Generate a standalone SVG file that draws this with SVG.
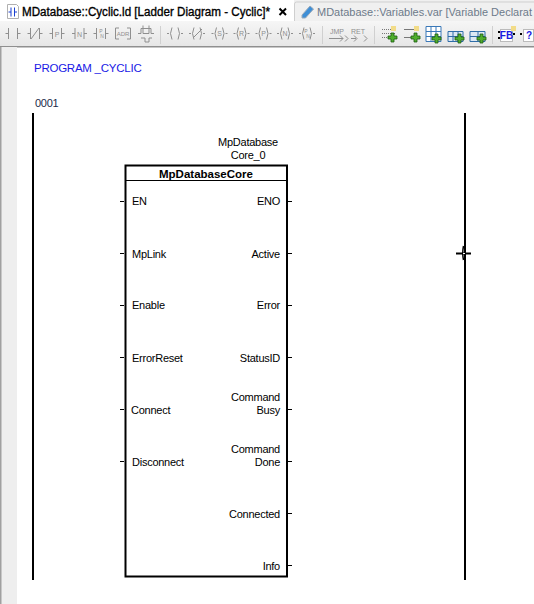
<svg xmlns="http://www.w3.org/2000/svg" width="534" height="604" viewBox="0 0 534 604">
<style>
text{font-family:"Liberation Sans",Arial,sans-serif;font-size:11px;letter-spacing:-.25px;fill:#000}
.r{text-anchor:end}.m{text-anchor:middle}
.tb{fill:none;stroke:#8f8f8f;stroke-width:1}
.tt{font-size:7px;letter-spacing:0;fill:#8f8f8f;text-anchor:middle}
.pin{stroke:#000;stroke-width:1}
.rail{stroke:#000;stroke-width:2}
.head{font-weight:bold;font-size:11.5px;letter-spacing:0}
</style>
<defs>
<linearGradient id="bar" x1="0" y1="0" x2="0" y2="1"><stop offset="0" stop-color="#f6f6f6"/><stop offset="1" stop-color="#e6e6e6"/></linearGradient>
<g id="add"><path d="M3 0h3v3h3v3h-3v3h-3v-3h-3v-3h3z" fill="#4fae2c" stroke="#1d5c12" stroke-width=".8"/></g>
<path id="coil" class="tb" d="M-8 0h2M-3-6q-3 6 0 12M3-6q3 6 0 12M6 0h2"/>
<path id="contact" class="tb" d="M-7.500 0h3M-4.500-5.500v11M4.500-5.500v11M4.500 0h3"/>
</defs>
<rect width="534" height="604" fill="#fff"/>
<g id="chrome">
<rect width="534" height="21" fill="#f0f0f0"/>
<rect width="294" height="21" fill="#fff"/>
<path d="M294.500 21V4q0-2 2-2H534" fill="none" stroke="#cfcfcf"/>
<rect y="21" width="534" height="25" fill="url(#bar)"/>
<rect y="46" width="534" height="1.500" fill="#8f8f8f"/>
<rect x="0" y="47" width="17" height="557" fill="#eeeeee"/>
<rect x="0" y="47" width="1.500" height="557" fill="#a0a0a0"/>
<path d="M7.500 4.500h9l2 2v12h-11z" fill="#fff" stroke="#b0b0b0"/>
<path d="M11 7.500v9M14.500 7.500v9M8.500 12h2.500M14.500 12h2.500" stroke="#1a3fd0" fill="none"/>
<text x="22" y="16" textLength="248" lengthAdjust="spacingAndGlyphs" style="font-size:12.500px;letter-spacing:0;stroke:#000;stroke-width:.35">MDatabase::Cyclic.ld [Ladder Diagram - Cyclic]*</text>
<path d="M279.500 8.500l6.500 6.500m0-6.500l-6.500 6.500" stroke="#000" stroke-width="2"/>
<path d="M302 15l8-9 3.500 3-8 9h-3.500z" fill="#3f8fd6" stroke="#9ab"/>
<text x="317" y="16" textLength="215" lengthAdjust="spacingAndGlyphs" style="fill:#6d7a8a;font-size:11.200px;letter-spacing:0">MDatabase::Variables.var [Variable Declarat</text>
</g>
<g id="toolbar">
<use href="#contact" x="13" y="33.500"/>
<use href="#contact" x="35" y="33.500"/><path class="tb" d="M31 39l8-11"/>
<use href="#contact" x="57" y="33.500"/><text class="tt" x="57" y="36.500">P</text>
<use href="#contact" x="79.500" y="33.500"/><text class="tt" x="79.500" y="36.500">N</text>
<use href="#contact" x="101" y="33.500"/><text class="tt" x="101" y="33" style="font-size:5px">P</text><text class="tt" x="102" y="38" style="font-size:5px">N</text>
<path class="tb" d="M119 28h-3.500v11H119M127 28h3.500v11H127"/>
<text class="tt" x="123" y="36" style="font-size:6px">ADR</text>
<path class="tb" d="M138 33.500h3v-5h10v5h3M143 25.500v8h6v-8M141 38h4v4h4v-4h3"/>
<path d="M160.500 26v18" stroke="#d0d0d0"/>
<use href="#coil" x="175" y="33.500"/>
<use href="#coil" x="197" y="33.500"/><path class="tb" d="M193 38l9-9"/>
<use href="#coil" x="219.500" y="33.500"/><text class="tt" x="219.500" y="36">S</text>
<use href="#coil" x="241.500" y="33.500"/><text class="tt" x="241.500" y="36">R</text>
<use href="#coil" x="263.500" y="33.500"/><text class="tt" x="263.500" y="36">P</text>
<use href="#coil" x="285" y="33.500"/><text class="tt" x="285" y="36">N</text>
<use href="#coil" x="307" y="33.500"/><text class="tt" x="306" y="33" style="font-size:5px">P</text><text class="tt" x="308" y="38" style="font-size:5px">N</text>
<path d="M322.500 26v18" stroke="#d0d0d0"/>
<text class="tt" x="337" y="34">JMP</text>
<path class="tb" d="M329 38.500h14M340 35.500l3 3-3 3M345 35.500l3 3-3 3"/>
<text class="tt" x="358" y="34">RET</text>
<path class="tb" d="M351 38.500h5M354 35.500l3 3-3 3M364 35.500l3 3-3 3"/>
<path d="M374.500 26v18" stroke="#d0d0d0"/>
<path d="M382 29.500h10M382 33.500h13M382 37.500h8" stroke="#777" stroke-dasharray="1 1"/>
<rect x="391" y="26" width="5" height="5" fill="#f2dc88"/><use href="#add" x="388" y="33"/>
<path d="M404 29.500h11M404 37.500h9" stroke="#777"/>
<rect x="414" y="26" width="5" height="5" fill="#f2dc88"/><use href="#add" x="411" y="33"/>
<path d="M426 26.500h15v15h-15zM431 26.500v15M436 26.500v15M426 31.500h15M426 36.500h15" fill="#fff" stroke="#3a78b8"/><use href="#add" x="432" y="34"/>
<path d="M448 31.500h15v10h-15zM453 31.500v10M458 31.500v10M448 36.500h15" fill="#dce8f4" stroke="#2f6da8"/><use href="#add" x="455" y="34"/>
<path d="M470 31.500h15v10h-15zM478 31.500v10M470 36.500h15" fill="#dce8f4" stroke="#2f6da8"/><use href="#add" x="477" y="34"/>
<path d="M492.500 26v18" stroke="#d0d0d0"/>
<rect x="500.500" y="29.500" width="12" height="12" fill="#fff" stroke="#bbb"/>
<rect x="511" y="26" width="5" height="5" fill="#f2dc88"/>
<text x="506.500" y="39" class="m" style="font-size:10px;letter-spacing:0;fill:#1a1ae0;font-weight:bold">FB</text>
<path d="M499 31v2M499 37v2M514 33v2" stroke="#000" stroke-width="2"/>
<rect x="523.500" y="29.500" width="10" height="12" fill="#fff" stroke="#bbb"/>
<text x="529" y="39" class="m" style="font-size:10px;letter-spacing:0;fill:#1a1ae0;font-weight:bold">?</text>
<path d="M521 33v2" stroke="#000" stroke-width="2"/>
</g>
<g id="header">
<text x="34" y="72" style="fill:#1a1ae6;font-size:11.500px">PROGRAM _CYCLIC</text>
<text x="35" y="107" style="fill:#1a2a4a">0001</text>
</g>
<g id="connectors">
<path class="rail" d="M33 113V580M465 113V580"/>
<path class="pin" d="M120 201.500h4M120 253.500h4M120 305.500h4M120 357.500h4M120 409.500h4M120 461.500h4M288 201.500h4M288 253.500h4M288 305.500h4M288 357.500h4M288 409.500h4M288 461.500h4M288 513.500h4M288 565.500h4"/>
</g>
<g id="instance-label">
<text class="m" x="248" y="146">MpDatabase</text>
<text class="m" x="248" y="159">Core_0</text>
</g>
<g id="MpDatabaseCore">
<rect x="125.500" y="165.500" width="161.500" height="411" fill="none" stroke="#000" stroke-width="2"/>
<path d="M125 180.500h162" stroke="#000"/>
<text class="m head" x="206" y="178">MpDatabaseCore</text>
<text x="132" y="205">EN</text>
<text x="132" y="258">MpLink</text>
<text x="132" y="309">Enable</text>
<text x="132" y="362">ErrorReset</text>
<text x="131" y="414">Connect</text>
<text x="132" y="466">Disconnect</text>
<text class="r" x="280" y="205">ENO</text>
<text class="r" x="280" y="258">Active</text>
<text class="r" x="280" y="309">Error</text>
<text class="r" x="280" y="362">StatusID</text>
<text class="r" x="280" y="401">Command</text>
<text class="r" x="280" y="414">Busy</text>
<text class="r" x="280" y="453">Command</text>
<text class="r" x="280" y="466">Done</text>
<text class="r" x="280" y="518">Connected</text>
<text class="r" x="280" y="570">Info</text>
</g>
<g id="cursor">
<path d="M456 253.500h15" stroke="#000" stroke-width="2"/>
<path d="M463.500 246q-1.500 7 0 14" fill="none" stroke="#000" stroke-width="1.500"/>
<rect x="463" y="253" width="2" height="1" fill="#fff"/>
</g>
</svg>
